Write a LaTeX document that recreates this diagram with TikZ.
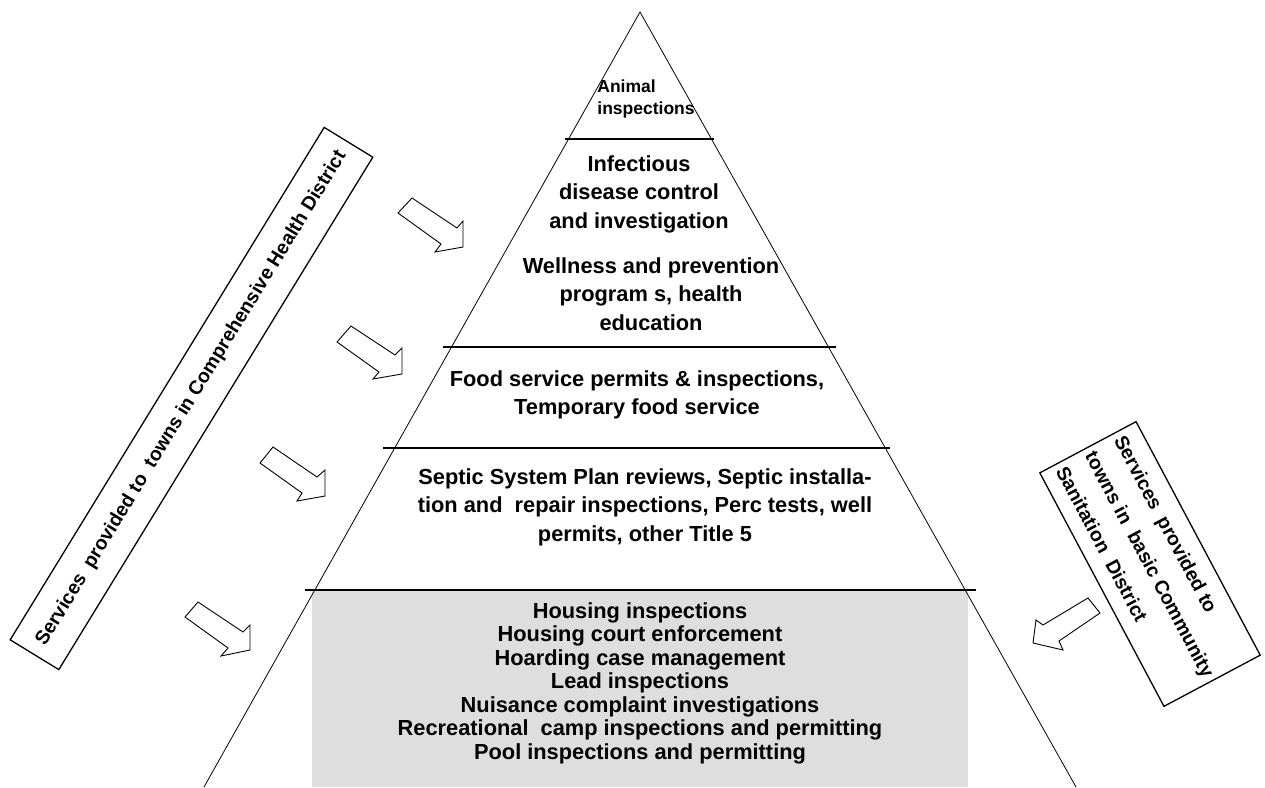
\documentclass[tikz,border=0pt]{standalone}
\usepackage{fontspec}
\setmainfont{Liberation Sans}
\begin{document}
\begin{tikzpicture}[x=1pt,y=-1pt,
  edgeline/.style={line width=0.8pt},
  divider/.style={line width=1.1pt},
  pyrtext/.style={font=\fontsize{21.8}{28.5}\selectfont\bfseries, align=center, inner sep=0pt},
  animtext/.style={font=\fontsize{17.5}{22}\selectfont\bfseries, align=left, inner sep=0pt},
  btmtext/.style={font=\fontsize{21.8}{23.5}\selectfont\bfseries, align=center, inner sep=0pt},
  sidebox/.style={draw, line width=1.3pt, font=\fontsize{19.5}{33}\selectfont\bfseries},
  blockarrow/.style={draw, line width=0.9pt, line join=miter, fill=white},
  shade/.style={fill=black!13, draw=none}]
\useasboundingbox[fill=white] (0,0) rectangle (1265,787);
% shaded bottom band
\path[shade] (312,590) rectangle (968,787);
% pyramid
\coordinate (apex) at (640,12);
\coordinate (bl) at (204,787);
\coordinate (br) at (1076,787);
\draw[edgeline] (bl) -- (apex) -- (br);
% dividers
\draw[divider] (565,139) -- (714,139);
\draw[divider] (443,347) -- (836,347);
\draw[divider] (383,448) -- (890,448);
\draw[divider] (305,590) -- (976,590);
% texts
\node[animtext] (animal) at (646,99) {Animal\\inspections};
\node[pyrtext] (infect) at (639,194) {Infectious\\disease control\\and investigation};
\node[pyrtext] (well) at (651,294) {Wellness and prevention\\program s, health\\education};
\node[pyrtext] (food) at (637,395) {Food service permits \& inspections,\\Temporary food service};
\node[pyrtext] (septic) at (645,507) {Septic System Plan reviews, Septic installa-\\tion and\ \ repair inspections, Perc tests, well\\permits, other Title 5};
\node[btmtext] (housing) at (640,683) {Housing inspections\\Housing court enforcement\\Hoarding case management\\Lead inspections\\Nuisance complaint investigations\\Recreational\ \ camp inspections and permitting\\Pool inspections and permitting};
% side boxes
\node[sidebox, rotate=58.5, minimum width=601pt, minimum height=57pt, inner sep=0pt] (chd) at (191.5,398.5) {Services\ \ provided to\ \ towns in Comprehensive Health District};
\node[sidebox, rotate=-62, minimum width=264pt, minimum height=109pt, align=left, inner xsep=6pt, inner ysep=0pt] (csd) at (1150,564) {Services\ \ provided to\\towns in\ \ basic Community\\Sanitation\ \ District};
% block arrows
\draw[blockarrow] (412,198) -- (457,228) -- (463,221) -- (463,247) -- (435,252) -- (441,244) -- (398,213) -- cycle;
\draw[blockarrow] (351,326) -- (395,355) -- (402,348) -- (402,374) -- (373,379) -- (379,372) -- (337,342) -- cycle;
\draw[blockarrow] (273,447) -- (317,477) -- (325,470) -- (325,496) -- (297,501) -- (302,493) -- (260,463) -- cycle;
\draw[blockarrow] (198,602) -- (243,632) -- (250,625) -- (250,650) -- (221,656) -- (228,648) -- (185,617) -- cycle;
\draw[blockarrow] (1088,598) -- (1100,613) -- (1059,641) -- (1063,650) -- (1033,643) -- (1036,620) -- (1043,625) -- cycle;
\end{tikzpicture}
\end{document}
